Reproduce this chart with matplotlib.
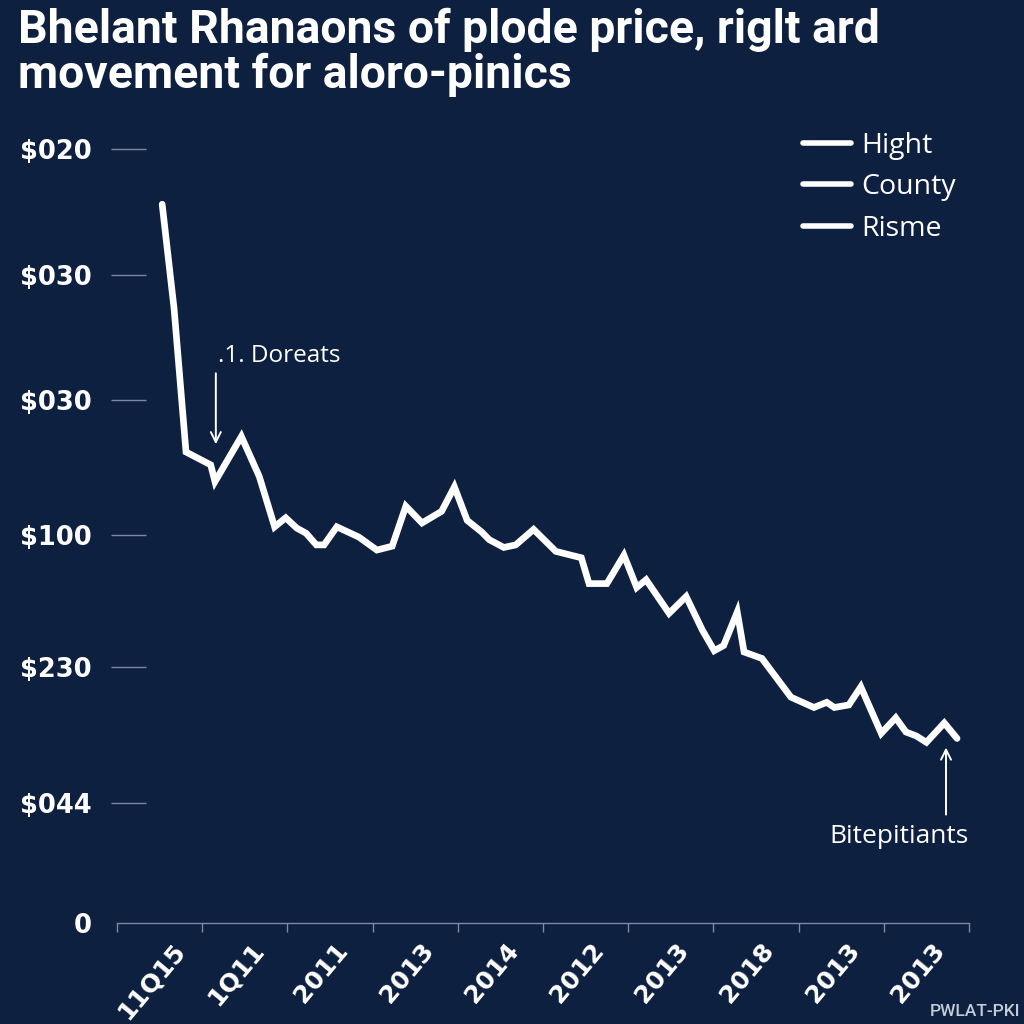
import matplotlib
matplotlib.use("Agg")
import matplotlib.pyplot as plt
from matplotlib.lines import Line2D

# ---------------- data ----------------
title_text = "Bhelant Rhanaons of plode price, riglt ard\nmovement for aloro-pinics"

x_tick_labels = ["11Q15", "1Q11", "2011", "2013", "2014", "2012", "2013", "2018", "2013", "2013"]

y_tick_values = [0, 0.93, 1.98, 3.01, 4.05, 5.02, 6.0]
y_tick_labels = ["0", "$044", "$230", "$100", "$030", "$030", "$020"]

price_x = [0.53, 0.67, 0.81, 1.10, 1.15, 1.46, 1.67, 1.85, 1.98, 2.11, 2.22, 2.34,
           2.43, 2.58, 2.84, 3.05, 3.23, 3.39, 3.58, 3.81, 3.96, 4.11, 4.28, 4.37,
           4.54, 4.68, 4.89, 5.15, 5.45, 5.54, 5.75, 5.95, 6.10, 6.21, 6.48, 6.68,
           6.87, 7.01, 7.12, 7.28, 7.36, 7.57, 7.91, 8.18, 8.33, 8.42, 8.59, 8.73,
           8.97, 9.14, 9.26, 9.38, 9.50, 9.71, 9.86]
price_y = [5.57, 4.76, 3.65, 3.55, 3.42, 3.77, 3.46, 3.07, 3.14, 3.06, 3.02, 2.93,
           2.93, 3.07, 2.99, 2.89, 2.92, 3.23, 3.10, 3.19, 3.38, 3.12, 3.03, 2.97,
           2.91, 2.93, 3.05, 2.88, 2.83, 2.63, 2.63, 2.85, 2.60, 2.66, 2.40, 2.53,
           2.27, 2.11, 2.15, 2.41, 2.10, 2.05, 1.75, 1.67, 1.71, 1.67, 1.69, 1.83,
           1.47, 1.59, 1.48, 1.45, 1.40, 1.55, 1.43]

legend_labels = ["Hight", "County", "Risme"]

annot1_text = ".1. Doreats"
annot1_tip = (1.16, 3.71)
annot1_text_pos = (1.19, 4.39)
annot1_tail = (1.16, 4.26)

annot2_text = "Bitepitiants"
annot2_tip = (9.73, 1.36)
annot2_tail = (9.73, 0.84)
annot2_text_pos = (9.18, 0.67)

watermark = "PWLAT-PKI"

# ---------------- style ----------------
BG = "#0e2040"
AXIS_C = "#7d8aa5"
W = 1024

fig = plt.figure(figsize=(10.24, 10.24), dpi=100, facecolor=BG)
ax = fig.add_axes([117 / W, 1 - 923 / W, (969 - 117) / W, (923 - 110) / W])
ax.set_facecolor(BG)

ax.plot(price_x, price_y, color="white", lw=4.8, solid_joinstyle="miter",
        solid_capstyle="round", zorder=3)

ax.set_xlim(0, 10)
ax.set_ylim(0, 6.30)

# spines
for s in ["top", "right"]:
    ax.spines[s].set_visible(False)
ax.spines["left"].set_visible(False)
ax.spines["left"].set_position(("outward", 4.3))
ax.spines["bottom"].set_color(AXIS_C)
ax.spines["bottom"].set_linewidth(1.0)

# x ticks: boundaries as major ticks, labels centred between them
ax.set_xticks(range(0, 11))
ax.set_xticklabels([])
ax.tick_params(axis="x", which="major", direction="out", length=6.5, width=1.0,
               color=AXIS_C)
ax.set_xticks([i + 0.4 for i in range(10)], minor=True)
ax.set_xticklabels(x_tick_labels, minor=True, rotation=50, ha="center", va="top",
                   fontsize=18, fontweight="bold", color="white",
                   family="DejaVu Sans")
ax.tick_params(axis="x", which="minor", length=0, pad=11)

# y ticks
ax.set_yticks(y_tick_values)
ax.set_yticklabels(y_tick_labels, fontsize=18.5, fontweight="bold", color="white",
                   family="DejaVu Sans")
ax.tick_params(axis="y", direction="in", length=25, width=1.0, color=AXIS_C, pad=14)
ax.yaxis.get_major_ticks()[0].tick1line.set_visible(False)

# legend
handles = [Line2D([0], [0], color="white", lw=4.0, solid_capstyle="round")
           for _ in legend_labels]
leg = fig.legend(handles, legend_labels, loc="upper left",
                 bbox_to_anchor=(803 / W, 1 - 132 / W), frameon=False,
                 prop={"family": "Open Sans", "size": 20.5}, labelcolor="white",
                 handlelength=1.68, handletextpad=0.38, labelspacing=0.47,
                 borderpad=0, borderaxespad=0)

# annotations
ax.annotate("", xy=annot1_tip, xytext=annot1_tail,
            arrowprops=dict(arrowstyle="->", color="white", lw=1.4,
                            mutation_scale=18, shrinkA=0, shrinkB=0))
ax.text(*annot1_text_pos, annot1_text, color="white", fontsize=17.5,
        family="Open Sans", ha="left", va="center")

ax.annotate("", xy=annot2_tip, xytext=annot2_tail,
            arrowprops=dict(arrowstyle="->", color="white", lw=1.4,
                            mutation_scale=18, shrinkA=0, shrinkB=0))
ax.text(*annot2_text_pos, annot2_text, color="white", fontsize=19,
        family="Open Sans", ha="center", va="center")

# title, fitted to reference width
title = fig.text(18 / W, 1 - 8 / W, title_text, color="white", fontsize=30,
                 fontweight="bold", family="Roboto", ha="left", va="top",
                 linespacing=1.02)
fig.canvas.draw()
r = fig.canvas.get_renderer()
first = fig.text(0, 0, title_text.split("\n")[0], fontsize=30, fontweight="bold",
                 family="Roboto")
w = first.get_window_extent(r).width
first.remove()
title.set_fontsize(30 * 860 / w)

fig.text(1020 / W, 1 - 1012 / W, watermark, color="#c3ccd8", fontsize=12.5,
         family="Roboto", ha="right", va="center", fontweight="medium")

fig.savefig("out.png", dpi=100, facecolor=BG)
